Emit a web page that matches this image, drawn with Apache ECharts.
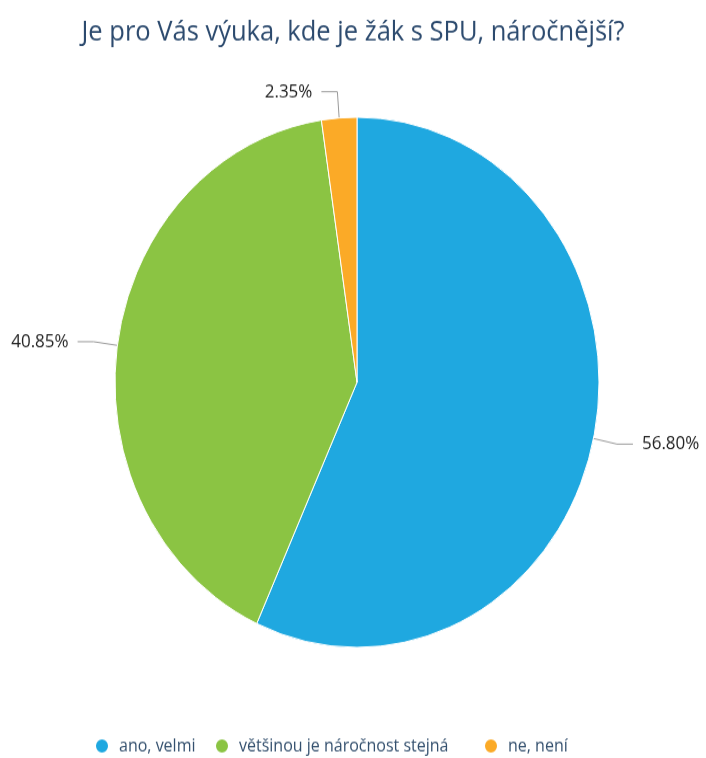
<!DOCTYPE html>
<html>
<head>
<meta charset="utf-8">
<script src="https://cdn.jsdelivr.net/npm/echarts@6/dist/echarts.min.js"></script>
<style>
  html, body { margin: 0; padding: 0; background: #fff; width: 706px; height: 758px; }
  #chart { width: 706px; height: 692px; transform: scaleY(1.0954); transform-origin: 0 0; }
</style>
</head>
<body>
<div id="chart"></div>
<script>
// Survey answers and their shares (percent)
const categories = ['ano, velmi', 'většinou je náročnost stejná', 'ne, není'];
const values = [56.80, 40.85, 2.35];
const colors = ['#1fa8e0', '#8bc443', '#fbaa27'];
const titleText = 'Je pro Vás výuka, kde je žák s SPU, náročnější?';

// left edge of each legend entry
const legendLeft = [94, 214, 483];

const chart = echarts.init(document.getElementById('chart'), null, { renderer: 'canvas' });

const legends = categories.map((name, i) => ({
  data: [name],
  left: legendLeft[i],
  top: 673,
  icon: 'circle',
  itemWidth: 24,
  itemHeight: 14,
  padding: 0,
  textStyle: {
    fontFamily: 'Open Sans',
    fontSize: 16,
    color: '#34506e'
  }
}));

chart.setOption({
  animation: false,
  color: colors,
  title: {
    text: titleText,
    left: 'center',
    top: 12,
    textStyle: {
      fontFamily: 'Open Sans',
      fontWeight: 'normal',
      fontSize: 25.5,
      color: '#2c4a6e'
    }
  },
  legend: legends,
  series: [{
    type: 'pie',
    center: [357, 349],
    radius: [0, 242],
    startAngle: 90,
    clockwise: true,
    data: categories.map((name, i) => ({ name, value: values[i] })),
    itemStyle: { borderColor: '#fff', borderWidth: 1 },
    label: {
      show: true,
      formatter: p => p.value.toFixed(2) + '%',
      fontFamily: 'Open Sans',
      fontSize: 17,
      color: '#222',
      overflow: 'none',
      distanceToLabelLine: 9
    },
    labelLine: {
      show: true,
      length: 24,
      length2: 16,
      lineStyle: { color: '#999', width: 1 }
    }
  }]
});
</script>
</body>
</html>
